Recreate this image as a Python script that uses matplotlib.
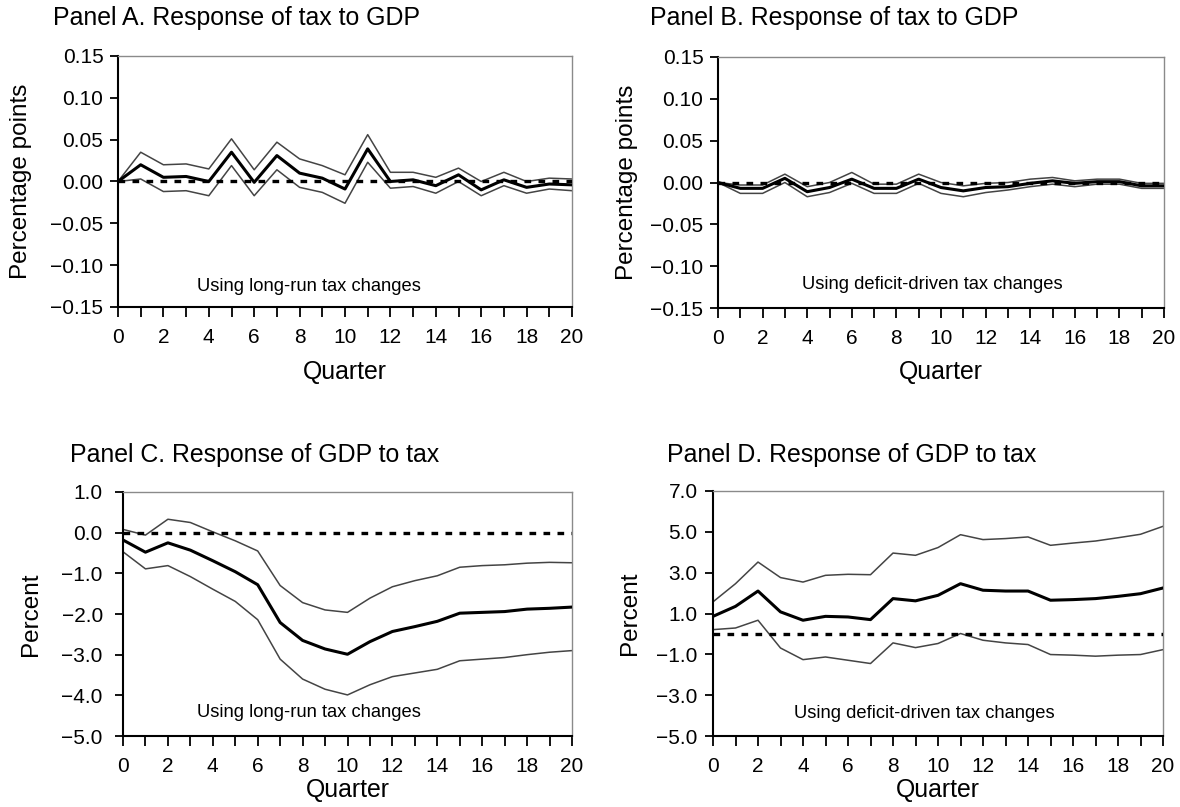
import matplotlib
matplotlib.use("Agg")
import matplotlib.pyplot as plt

plt.rcParams['font.family'] = ['Liberation Sans', 'DejaVu Sans']

quarters = list(range(21))

# Panel A: response of tax to GDP, long-run tax changes
a_mid = [0.000, 0.020, 0.005, 0.006, 0.000, 0.035, -0.001, 0.031, 0.010, 0.004, -0.009,
         0.039, 0.000, 0.002, -0.005, 0.008, -0.010, 0.002, -0.007, -0.003, -0.004]
a_hi = [0.000, 0.035, 0.020, 0.021, 0.015, 0.051, 0.014, 0.047, 0.027, 0.019, 0.008,
        0.056, 0.011, 0.011, 0.005, 0.016, 0.000, 0.011, 0.000, 0.004, 0.003]
a_lo = [0.000, 0.003, -0.012, -0.011, -0.017, 0.019, -0.017, 0.014, -0.007, -0.013, -0.026,
        0.023, -0.008, -0.006, -0.014, 0.000, -0.017, -0.005, -0.014, -0.009, -0.011]

# Panel B: response of tax to GDP, deficit-driven tax changes
b_mid = [0.000, -0.007, -0.007, 0.005, -0.011, -0.006, 0.004, -0.007, -0.007, 0.004, -0.006,
         -0.010, -0.006, -0.005, -0.001, 0.002, -0.001, 0.001, 0.001, -0.004, -0.004]
b_hi = [0.000, -0.003, -0.003, 0.010, -0.005, 0.000, 0.012, -0.002, -0.002, 0.010, 0.000,
        -0.004, -0.001, 0.000, 0.004, 0.006, 0.002, 0.004, 0.004, -0.001, -0.001]
b_lo = [0.000, -0.013, -0.013, 0.000, -0.017, -0.012, -0.001, -0.013, -0.013, -0.001, -0.013,
        -0.017, -0.012, -0.009, -0.005, -0.002, -0.005, -0.002, -0.002, -0.007, -0.007]

# Panel C: response of GDP to tax, long-run tax changes
c_mid = [-0.18, -0.48, -0.25, -0.43, -0.69, -0.96, -1.28, -2.21, -2.65, -2.86, -2.99,
         -2.68, -2.43, -2.31, -2.18, -1.98, -1.96, -1.94, -1.88, -1.86, -1.83]
c_hi = [0.08, -0.06, 0.33, 0.25, 0.02, -0.20, -0.45, -1.30, -1.72, -1.90, -1.96,
        -1.61, -1.33, -1.18, -1.06, -0.85, -0.81, -0.79, -0.75, -0.73, -0.74]
c_lo = [-0.47, -0.89, -0.81, -1.08, -1.39, -1.69, -2.14, -3.11, -3.60, -3.85, -3.99,
        -3.74, -3.54, -3.45, -3.36, -3.15, -3.11, -3.07, -3.00, -2.94, -2.90]

# Panel D: response of GDP to tax, deficit-driven tax changes
d_mid = [0.86, 1.35, 2.10, 1.08, 0.67, 0.86, 0.83, 0.70, 1.73, 1.62, 1.89,
         2.46, 2.14, 2.10, 2.10, 1.65, 1.68, 1.73, 1.84, 1.97, 2.25]
d_hi = [1.57, 2.46, 3.52, 2.76, 2.54, 2.87, 2.92, 2.90, 3.96, 3.85, 4.23,
        4.86, 4.62, 4.67, 4.75, 4.34, 4.45, 4.55, 4.71, 4.88, 5.27]
d_lo = [0.21, 0.29, 0.67, -0.69, -1.26, -1.13, -1.29, -1.45, -0.44, -0.67, -0.47,
        0.02, -0.31, -0.44, -0.52, -1.01, -1.04, -1.09, -1.04, -1.01, -0.77]

x_ticks = list(range(0, 21, 2))
tax_ticks = [0.15, 0.10, 0.05, 0.00, -0.05, -0.10, -0.15]
gdp_c_ticks = [1.0, 0.0, -1.0, -2.0, -3.0, -4.0, -5.0]
gdp_d_ticks = [7.0, 5.0, 3.0, 1.0, -1.0, -3.0, -5.0]

titles = ["Panel A. Response of tax to GDP", "Panel B. Response of tax to GDP",
          "Panel C. Response of GDP to tax", "Panel D. Response of GDP to tax"]
notes = ["Using long-run tax changes", "Using deficit-driven tax changes",
         "Using long-run tax changes", "Using deficit-driven tax changes"]
ylabels = ["Percentage points", "Percentage points", "Percent", "Percent"]

W, H = 1180, 807
fig = plt.figure(figsize=(W / 100, H / 100), dpi=100)


def box(l, t, r, b):
    return [l / W, 1 - b / H, (r - l) / W, (b - t) / H]


panels = [
    dict(rect=box(118, 56, 572, 307), mid=a_mid, hi=a_hi, lo=a_lo, ticks=tax_ticks,
         fmt="{:.2f}", lim=(-0.15, 0.15), note_xy=(8.4, -0.125), ypad=4.5,
         title_xy=(53, 18), ylab_x=21, xlab_y=372),
    dict(rect=box(718, 57, 1164, 308), mid=b_mid, hi=b_hi, lo=b_lo, ticks=tax_ticks,
         fmt="{:.2f}", lim=(-0.15, 0.15), note_xy=(9.6, -0.122), ypad=4.5,
         title_xy=(650, 18), ylab_x=627, xlab_y=372),
    dict(rect=box(123, 492, 572, 736), mid=c_mid, hi=c_hi, lo=c_lo, ticks=gdp_c_ticks,
         fmt="{:.1f}", lim=(-5.0, 1.0), note_xy=(8.3, -4.41), ypad=8.5,
         title_xy=(70, 455), ylab_x=31, xlab_y=790),
    dict(rect=box(713, 491, 1163, 736), mid=d_mid, hi=d_hi, lo=d_lo, ticks=gdp_d_ticks,
         fmt="{:.1f}", lim=(-5.0, 7.0), note_xy=(9.4, -3.89), ypad=5,
         title_xy=(667, 455), ylab_x=630, xlab_y=790),
]

for i, p in enumerate(panels):
    ax = fig.add_axes(p["rect"])
    ax.plot(quarters, p["hi"], color="#444444", lw=1.1, zorder=2)
    ax.plot(quarters, p["lo"], color="#444444", lw=1.1, zorder=2)
    ax.plot(quarters, p["mid"], color="black", lw=2.2, zorder=3)
    ax.axhline(0, color="black", lw=2.4, dashes=(2, 2.2), zorder=4)

    ax.set_xlim(0, 20)
    ax.set_ylim(*p["lim"])
    ax.set_xticks(quarters, minor=True)
    ax.set_xticks(x_ticks)
    ax.set_xticklabels([str(v) for v in x_ticks])
    ax.set_yticks(p["ticks"])
    ax.set_yticklabels([p["fmt"].format(v).replace("-", "\u2212") for v in p["ticks"]])
    ax.tick_params(axis="both", which="both", direction="out", width=1.3,
                   color="black", labelsize=15)
    ax.tick_params(axis="x", which="both", length=7, pad=8)
    ax.tick_params(axis="y", length=6, pad=p["ypad"])

    for side in ("left", "bottom"):
        ax.spines[side].set_linewidth(1.5)
        ax.spines[side].set_color("black")
    for side in ("top", "right"):
        ax.spines[side].set_linewidth(1.0)
        ax.spines[side].set_color("#8a8a8a")

    ax.text(*p["note_xy"], notes[i], ha="center", va="center", fontsize=13.2)

    fig.text(p["title_xy"][0] / W, 1 - p["title_xy"][1] / H, titles[i],
             ha="left", va="center", fontsize=17.9)

    ax.set_ylabel(ylabels[i], fontsize=17.5)
    l, b, w, h = p["rect"]
    ax.yaxis.set_label_coords((p["ylab_x"] / W - l) / w, 0.5)
    ax.set_xlabel("Quarter", fontsize=17.9)
    ax.xaxis.set_label_coords(0.5, ((1 - p["xlab_y"] / H) - b) / h)
    ax.xaxis.label.set_va("center")
    ax.yaxis.label.set_va("center")

fig.savefig("out.png", dpi=100, facecolor="white")
